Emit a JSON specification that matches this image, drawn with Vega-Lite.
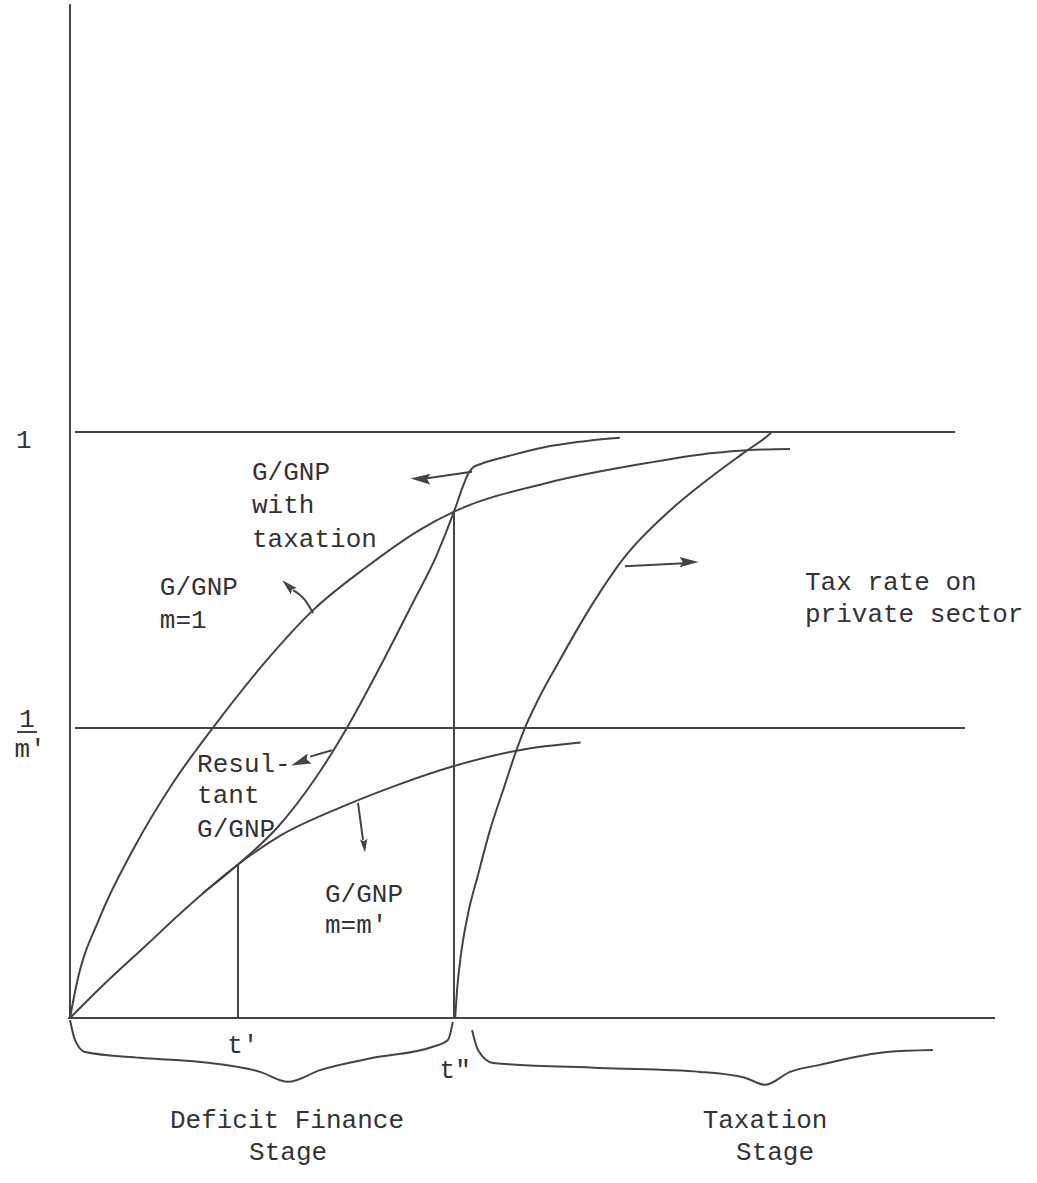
{
  "$schema": "https://vega.github.io/schema/vega-lite/v6.json",
  "width": 1037,
  "height": 1183,
  "padding": 0,
  "autosize": {"type": "fit", "contains": "padding"},
  "background": "white",
  "config": {"view": {"stroke": null}},
  "datasets": {
    "curves": [
      {"id": "m1", "x": 0, "y": 0}, {"id": "m1", "x": 0.018, "y": 0.06}, {"id": "m1", "x": 0.078, "y": 0.172}, {"id": "m1", "x": 0.164, "y": 0.287}, {"id": "m1", "x": 0.268, "y": 0.401}, {"id": "m1", "x": 0.372, "y": 0.495}, {"id": "m1", "x": 0.513, "y": 0.611}, {"id": "m1", "x": 0.633, "y": 0.696}, {"id": "m1", "x": 0.773, "y": 0.77}, {"id": "m1", "x": 0.911, "y": 0.833}, {"id": "m1", "x": 1.0, "y": 0.864}, {"id": "m1", "x": 1.242, "y": 0.913}, {"id": "m1", "x": 1.503, "y": 0.947}, {"id": "m1", "x": 1.674, "y": 0.964}, {"id": "m1", "x": 1.763, "y": 0.969}, {"id": "m1", "x": 1.875, "y": 0.971},
      {"id": "mm", "x": 0, "y": 0}, {"id": "mm", "x": 0.08, "y": 0.052}, {"id": "mm", "x": 0.2, "y": 0.125}, {"id": "mm", "x": 0.3, "y": 0.186}, {"id": "mm", "x": 0.4375, "y": 0.262}, {"id": "mm", "x": 0.55, "y": 0.312}, {"id": "mm", "x": 0.7, "y": 0.358}, {"id": "mm", "x": 0.85, "y": 0.397}, {"id": "mm", "x": 1.0, "y": 0.43}, {"id": "mm", "x": 1.17, "y": 0.457}, {"id": "mm", "x": 1.33, "y": 0.47},
      {"id": "res", "x": 0.346, "y": 0.213}, {"id": "res", "x": 0.4375, "y": 0.262}, {"id": "res", "x": 0.54, "y": 0.325}, {"id": "res", "x": 0.64, "y": 0.41}, {"id": "res", "x": 0.721, "y": 0.495}, {"id": "res", "x": 0.8, "y": 0.59}, {"id": "res", "x": 0.89, "y": 0.705}, {"id": "res", "x": 0.955, "y": 0.79}, {"id": "res", "x": 1.0, "y": 0.864}, {"id": "res", "x": 1.022, "y": 0.905}, {"id": "res", "x": 1.038, "y": 0.93}, {"id": "res", "x": 1.05, "y": 0.94}, {"id": "res", "x": 1.068, "y": 0.945}, {"id": "res", "x": 1.154, "y": 0.961}, {"id": "res", "x": 1.25, "y": 0.976}, {"id": "res", "x": 1.35, "y": 0.985}, {"id": "res", "x": 1.432, "y": 0.99},
      {"id": "tr", "x": 1.003, "y": 0}, {"id": "tr", "x": 1.008, "y": 0.048}, {"id": "tr", "x": 1.018, "y": 0.1075}, {"id": "tr", "x": 1.036, "y": 0.176}, {"id": "tr", "x": 1.0625, "y": 0.244}, {"id": "tr", "x": 1.094, "y": 0.321}, {"id": "tr", "x": 1.128, "y": 0.389}, {"id": "tr", "x": 1.161, "y": 0.454}, {"id": "tr", "x": 1.182, "y": 0.491}, {"id": "tr", "x": 1.219, "y": 0.543}, {"id": "tr", "x": 1.268, "y": 0.602}, {"id": "tr", "x": 1.362, "y": 0.708}, {"id": "tr", "x": 1.44, "y": 0.783}, {"id": "tr", "x": 1.5625, "y": 0.866}, {"id": "tr", "x": 1.667, "y": 0.922}, {"id": "tr", "x": 1.758, "y": 0.966}, {"id": "tr", "x": 1.823, "y": 0.997}, {"id": "tr", "x": 1.828, "y": 1.0},
      {"id": "bl", "x": 0, "y": -0.0034}, {"id": "bl", "x": 0.013, "y": -0.0375}, {"id": "bl", "x": 0.039, "y": -0.058}, {"id": "bl", "x": 0.182, "y": -0.068}, {"id": "bl", "x": 0.339, "y": -0.075}, {"id": "bl", "x": 0.495, "y": -0.092}, {"id": "bl", "x": 0.568, "y": -0.109}, {"id": "bl", "x": 0.651, "y": -0.089}, {"id": "bl", "x": 0.789, "y": -0.068}, {"id": "bl", "x": 0.945, "y": -0.049}, {"id": "bl", "x": 0.984, "y": -0.0375}, {"id": "bl", "x": 0.997, "y": -0.0068},
      {"id": "br", "x": 1.047, "y": -0.0205}, {"id": "br", "x": 1.0625, "y": -0.0546}, {"id": "br", "x": 1.102, "y": -0.0768}, {"id": "br", "x": 1.38, "y": -0.0853}, {"id": "br", "x": 1.641, "y": -0.092}, {"id": "br", "x": 1.758, "y": -0.102}, {"id": "br", "x": 1.81, "y": -0.114}, {"id": "br", "x": 1.875, "y": -0.092}, {"id": "br", "x": 1.953, "y": -0.08}, {"id": "br", "x": 2.128, "y": -0.058}, {"id": "br", "x": 2.247, "y": -0.0546},
      {"id": "a1", "x": 0.581, "y": 0.73}, {"id": "a1", "x": 0.612, "y": 0.713}, {"id": "a1", "x": 0.633, "y": 0.691},
      {"id": "a2", "x": 0.93, "y": 0.921}, {"id": "a2", "x": 1.047, "y": 0.932},
      {"id": "a3", "x": 0.625, "y": 0.446}, {"id": "a3", "x": 0.682, "y": 0.457},
      {"id": "a4", "x": 0.75, "y": 0.367}, {"id": "a4", "x": 0.763, "y": 0.304},
      {"id": "a5", "x": 1.445, "y": 0.771}, {"id": "a5", "x": 1.6, "y": 0.776}
    ],
    "rules": [
      {"x": 0, "y": 1.73, "x2": 0, "y2": 0},
      {"x": -0.005, "y": 0, "x2": 2.409, "y2": 0},
      {"x": 0.013, "y": 1, "x2": 2.305, "y2": 1},
      {"x": 0.013, "y": 0.495, "x2": 2.331, "y2": 0.495},
      {"x": 0.4375, "y": 0, "x2": 0.4375, "y2": 0.262},
      {"x": 1.0, "y": 0, "x2": 1.0, "y2": 0.864},
      {"x": -0.138, "y": 0.488, "x2": -0.086, "y2": 0.488}
    ],
    "heads": [
      {"x": 0.572, "y": 0.735, "a": 314, "s": 420},
      {"x": 0.92, "y": 0.92, "a": 272, "s": 650},
      {"x": 0.607, "y": 0.4386, "a": 249, "s": 650},
      {"x": 0.766, "y": 0.297, "a": 174, "s": 300},
      {"x": 1.605, "y": 0.778, "a": 90, "s": 600}
    ],
    "labels": [
      {"t": "G/GNP", "x": 0.474, "y": 0.918, "al": "left"},
      {"t": "with", "x": 0.474, "y": 0.862, "al": "left"},
      {"t": "taxation", "x": 0.474, "y": 0.804, "al": "left"},
      {"t": "G/GNP", "x": 0.234, "y": 0.722, "al": "left"},
      {"t": "m=1", "x": 0.234, "y": 0.6655, "al": "left"},
      {"t": "Resul-", "x": 0.331, "y": 0.42, "al": "left"},
      {"t": "tant", "x": 0.331, "y": 0.367, "al": "left"},
      {"t": "G/GNP", "x": 0.331, "y": 0.309, "al": "left"},
      {"t": "G/GNP", "x": 0.664, "y": 0.198, "al": "left"},
      {"t": "m=m'", "x": 0.664, "y": 0.145, "al": "left"},
      {"t": "Tax rate on", "x": 1.914, "y": 0.73, "al": "left"},
      {"t": "private sector", "x": 1.914, "y": 0.676, "al": "left"},
      {"t": "1", "x": -0.12, "y": 0.973, "al": "center"},
      {"t": "1", "x": -0.112, "y": 0.4966, "al": "center"},
      {"t": "m'", "x": -0.104, "y": 0.445, "al": "center"},
      {"t": "t'", "x": 0.45, "y": -0.0597, "al": "center"},
      {"t": "t\"", "x": 1.003, "y": -0.102, "al": "center"},
      {"t": "Deficit Finance", "x": 0.565, "y": -0.1877, "al": "center"},
      {"t": "Stage", "x": 0.568, "y": -0.2423, "al": "center"},
      {"t": "Taxation", "x": 1.81, "y": -0.1877, "al": "center"},
      {"t": "Stage", "x": 1.836, "y": -0.2423, "al": "center"}
    ]
  },
  "layer": [
    {
      "data": {"name": "rules"},
      "mark": {"type": "rule", "color": "#444", "strokeWidth": 2},
      "encoding": {
        "x": {"field": "x", "type": "quantitative", "axis": null, "scale": {"domain": [-0.18229, 2.51823], "nice": false, "zero": false}},
        "y": {"field": "y", "type": "quantitative", "axis": null, "scale": {"domain": [-0.2816, 1.7372], "nice": false, "zero": false}},
        "x2": {"field": "x2"},
        "y2": {"field": "y2"}
      }
    },
    {
      "data": {"name": "curves"},
      "mark": {"type": "line", "color": "#444", "strokeWidth": 2, "interpolate": "monotone"},
      "encoding": {
        "x": {"field": "x", "type": "quantitative", "axis": null, "scale": {"domain": [-0.18229, 2.51823], "nice": false, "zero": false}},
        "y": {"field": "y", "type": "quantitative", "axis": null, "scale": {"domain": [-0.2816, 1.7372], "nice": false, "zero": false}},
        "detail": {"field": "id", "type": "nominal"}
      }
    },
    {
      "data": {"name": "heads"},
      "mark": {"type": "point", "shape": "M0,-1L0.42,0.55L0,0.3L-0.42,0.55Z", "filled": true, "color": "#444", "opacity": 1},
      "encoding": {
        "x": {"field": "x", "type": "quantitative", "axis": null, "scale": {"domain": [-0.18229, 2.51823], "nice": false, "zero": false}},
        "y": {"field": "y", "type": "quantitative", "axis": null, "scale": {"domain": [-0.2816, 1.7372], "nice": false, "zero": false}},
        "angle": {"field": "a", "type": "quantitative", "scale": null},
        "size": {"field": "s", "type": "quantitative", "scale": null}
      }
    },
    {
      "data": {"name": "labels"},
      "transform": [{"filter": "datum.al === 'left'"}],
      "mark": {"type": "text", "align": "left", "baseline": "alphabetic", "font": "Liberation Mono", "fontSize": 26, "color": "#333"},
      "encoding": {
        "x": {"field": "x", "type": "quantitative", "axis": null, "scale": {"domain": [-0.18229, 2.51823], "nice": false, "zero": false}},
        "y": {"field": "y", "type": "quantitative", "axis": null, "scale": {"domain": [-0.2816, 1.7372], "nice": false, "zero": false}},
        "text": {"field": "t", "type": "nominal"}
      }
    },
    {
      "data": {"name": "labels"},
      "transform": [{"filter": "datum.al === 'center'"}],
      "mark": {"type": "text", "align": "center", "baseline": "alphabetic", "font": "Liberation Mono", "fontSize": 26, "color": "#333"},
      "encoding": {
        "x": {"field": "x", "type": "quantitative", "axis": null, "scale": {"domain": [-0.18229, 2.51823], "nice": false, "zero": false}},
        "y": {"field": "y", "type": "quantitative", "axis": null, "scale": {"domain": [-0.2816, 1.7372], "nice": false, "zero": false}},
        "text": {"field": "t", "type": "nominal"}
      }
    }
  ]
}
